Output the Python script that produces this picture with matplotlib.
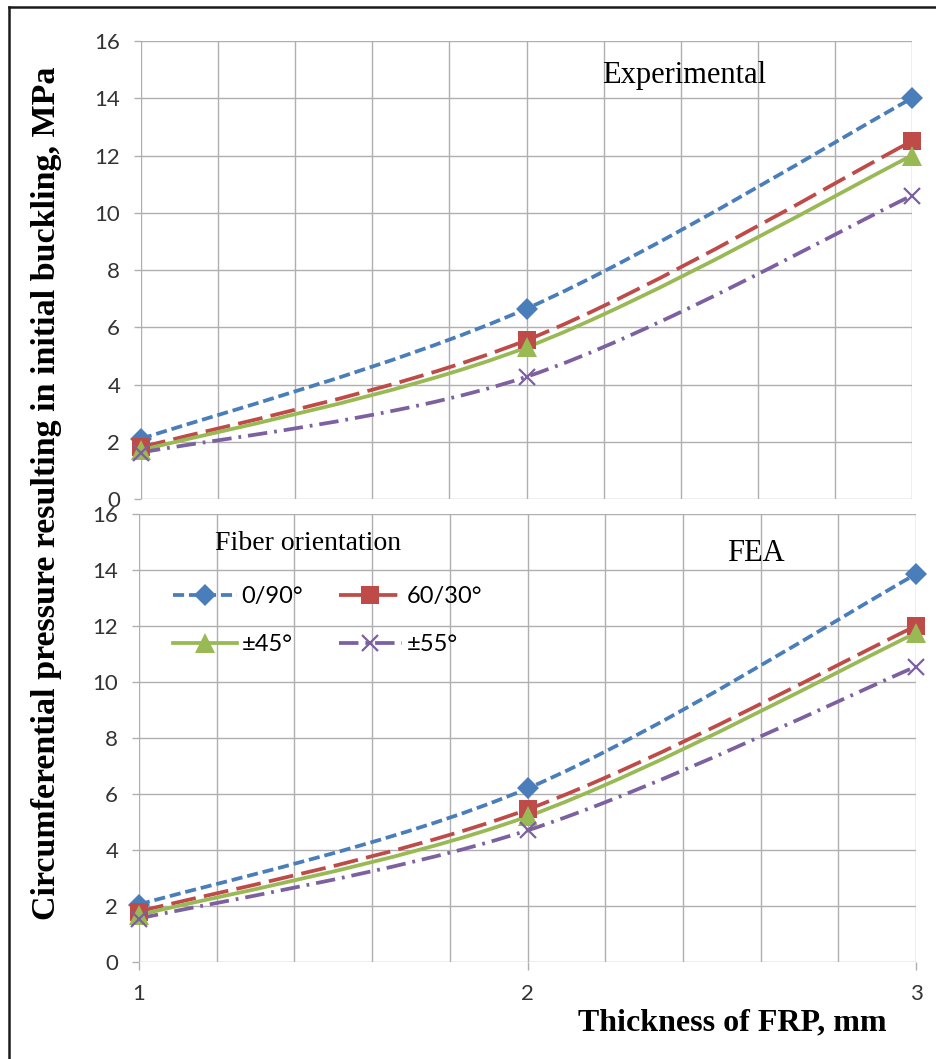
import numpy as np
import matplotlib
matplotlib.use("Agg")
import matplotlib.pyplot as plt
from matplotlib.path import Path
from matplotlib.patches import PathPatch
from matplotlib.lines import Line2D
from matplotlib.ticker import MultipleLocator

plt.rcParams['lines.scale_dashes'] = False

# thickness of FRP (mm)
espessura = [1, 2, 3]

# experimental buckling pressure (MPa)
exp_0_90 = [2.1, 6.65, 14.0]
exp_60_30 = [1.8, 5.55, 12.5]
exp_45 = [1.7, 5.3, 12.0]
exp_55 = [1.62, 4.27, 10.6]

# FEA buckling pressure (MPa)
fea_0_90 = [2.05, 6.2, 13.85]
fea_60_30 = [1.8, 5.45, 12.0]
fea_45 = [1.68, 5.2, 11.75]
fea_55 = [1.55, 4.7, 10.55]

rotulos = ["0/90°", "60/30°", "±45°", "±55°"]
cores = ["#4A7EBB", "#BE4B48", "#98B954", "#7D60A0"]
tracos = [(0, (8, 3.5)), (0, (18, 6)), "solid", (0, (14, 5, 2, 5))]
marcadores = ["D", "s", "^", "x"]
tam_marc = [11, 13, 14, 12]

COR_GRADE = "#AFAFAF"
SANS = ["Lato", "DejaVu Sans"]
SERIF = ["Liberation Serif", "DejaVu Serif"]


def curva_suave(xs, ys):
    # Catmull-Rom style cubic Bezier through the points (like smoothed lines in a spreadsheet)
    pts = np.column_stack([xs, ys]).astype(float)
    n = len(pts)
    verts = [pts[0]]
    codes = [Path.MOVETO]
    for i in range(n - 1):
        p0 = pts[max(i - 1, 0)]
        p1 = pts[i]
        p2 = pts[i + 1]
        p3 = pts[min(i + 2, n - 1)]
        c1 = p1 + (p2 - p0) / 6
        c2 = p2 - (p3 - p1) / 6
        verts += [c1, c2, p2]
        codes += [Path.CURVE4] * 3
    return Path(verts, codes)


def desenhar_series(ax, series):
    for k, ys in enumerate(series):
        patch = PathPatch(curva_suave(espessura, ys), fill=False, edgecolor=cores[k],
                          lw=2.7, linestyle=tracos[k], capstyle="butt", zorder=3 + k)
        ax.add_patch(patch)
        mew = 1.6 if marcadores[k] == "x" else 0
        ax.plot(espessura, ys, linestyle="none", marker=marcadores[k], ms=tam_marc[k],
                color=cores[k], mec=cores[k], mew=mew, zorder=8 + k, clip_on=False)


def formatar_eixo(ax, mostrar_x):
    ax.set_xlim(1, 3)
    ax.set_ylim(0, 16)
    ax.xaxis.set_major_locator(MultipleLocator(1))
    ax.xaxis.set_minor_locator(MultipleLocator(0.2))
    ax.yaxis.set_major_locator(MultipleLocator(2))
    ax.grid(True, which="both", axis="x", color=COR_GRADE, lw=1.0)
    ax.grid(True, which="major", axis="y", color=COR_GRADE, lw=1.0)
    ax.set_axisbelow(True)
    for s in ax.spines.values():
        s.set_visible(False)
    ax.tick_params(axis="y", length=5, width=1.0, color=COR_GRADE, pad=10,
                   labelsize=16, labelcolor="#333333")
    ax.tick_params(axis="x", which="minor", length=0)
    if mostrar_x:
        ax.tick_params(axis="x", which="major", length=6, width=1.0, color=COR_GRADE,
                       pad=10, labelsize=16, labelcolor="#333333")
    else:
        ax.tick_params(axis="x", which="major", length=0, labelbottom=False)
    for lb in ax.get_xticklabels() + ax.get_yticklabels():
        lb.set_family(SANS)


fig = plt.figure(figsize=(9.37, 10.59), dpi=100)
ax_exp = fig.add_axes([0.15048, 0.52880, 0.82284, 0.43248])
ax_fea = fig.add_axes([0.14835, 0.09160, 0.82924, 0.42304])

desenhar_series(ax_exp, [exp_0_90, exp_60_30, exp_45, exp_55])
desenhar_series(ax_fea, [fea_0_90, fea_60_30, fea_45, fea_55])
formatar_eixo(ax_exp, False)
formatar_eixo(ax_fea, True)

ax_exp.text(2.409, 14.81, "Experimental", ha="center", va="center",
            fontsize=22, family=SERIF)
ax_fea.text(2.588, 14.6, "FEA", ha="center", va="center", fontsize=22, family=SERIF)
ax_fea.text(1.435, 14.96, "Fiber orientation", ha="center", va="center",
            fontsize=20, family=SERIF)

handles = [Line2D([], [], color=cores[k], lw=2.7, linestyle=tracos[k],
                  marker=marcadores[k], ms=tam_marc[k], mec=cores[k],
                  mew=1.6 if marcadores[k] == "x" else 0)
           for k in range(4)]
# two columns, filled row by row: 0/90 and 60/30 on top, ±45 and ±55 below
ordem = [0, 2, 1, 3]
ax_fea.legend([handles[i] for i in ordem], [rotulos[i] for i in ordem], ncol=2,
              loc="upper left", bbox_to_anchor=(0.0438, 0.839),
              frameon=False, borderpad=0, borderaxespad=0, handlelength=2.7,
              handletextpad=0.2, columnspacing=1.5, labelspacing=1.15,
              prop={"family": SANS, "size": 17})

fig.text(0.050, 0.5345, "Circumferential pressure resulting in initial buckling, MPa",
         rotation=90, ha="center", va="center", fontsize=24.5, fontweight="bold",
         family=SERIF)
fig.text(0.7817, 0.034, "Thickness of FRP, mm", ha="center", va="center",
         fontsize=23, fontweight="bold", family=SERIF)

# frame edges along the left and top
fig.add_artist(Line2D([9 / 937, 9 / 937], [0, 1 - 7 / 1059], transform=fig.transFigure,
                      color="#1A1A1A", lw=1.8))
fig.add_artist(Line2D([9 / 937, 1], [1 - 7 / 1059, 1 - 7 / 1059], transform=fig.transFigure,
                      color="#1A1A1A", lw=1.8))

fig.savefig("out.png", dpi=100, facecolor="white")
